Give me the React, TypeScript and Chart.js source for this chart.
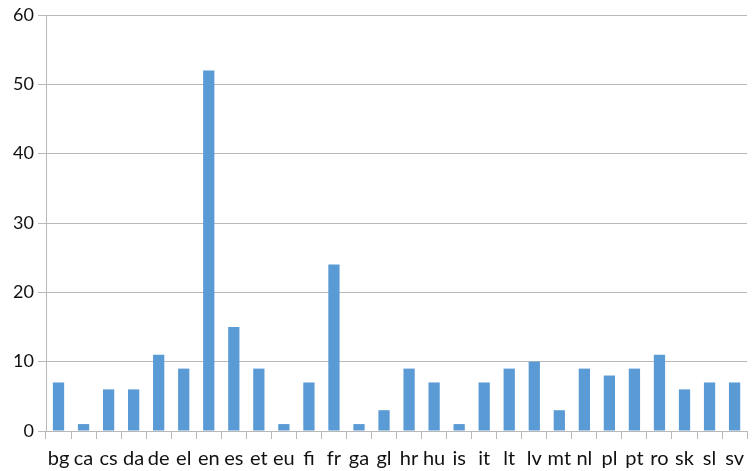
import React, { useEffect, useRef } from "react";
import { Chart, registerables } from "chart.js";

Chart.register(...registerables);

const categories = ["bg","ca","cs","da","de","el","en","es","et","eu","fi","fr","ga","gl","hr","hu","is","it","lt","lv","mt","nl","pl","pt","ro","sk","sl","sv"];
const values = [7,1,6,6,11,9,52,15,9,1,7,24,1,3,9,7,1,7,9,10,3,9,8,9,11,6,7,7];
const yTicks = [0, 10, 20, 30, 40, 50, 60];

export default function App() {
  const ref = useRef<HTMLCanvasElement>(null);
  useEffect(() => {
    document.body.style.margin = "0";
    const chart = new Chart(ref.current!, {
      type: "bar",
      data: {
        labels: categories,
        datasets: [{ data: values, backgroundColor: "#5b9bd5", barPercentage: 0.45, categoryPercentage: 1 }],
      },
      options: {
        animation: false,
        responsive: false,
        layout: { padding: { top: 15, right: 0, left: 0, bottom: 0 } },
        plugins: { legend: { display: false }, tooltip: { enabled: false } },
        scales: {
          x: {
            offset: true,
            grid: { offset: true, drawOnChartArea: false, drawTicks: true, tickLength: 8, color: "#b8b8b8" },
            border: { color: "#b8b8b8" },
            ticks: { color: "#111", font: { family: "Lato", size: 20 }, padding: 8, maxRotation: 0, autoSkip: false },
            afterFit: (s: any) => { s.height = 40; },
          },
          y: {
            min: 0,
            max: 60,
            afterBuildTicks: (s: any) => { s.ticks = yTicks.map((v) => ({ value: v })); },
            grid: { color: "#b8b8b8", tickLength: 8 },
            border: { color: "#b8b8b8" },
            ticks: { color: "#111", font: { family: "Lato", size: 18 }, padding: 4 },
            afterFit: (s: any) => { s.width = 46; },
          },
        },
      },
    });
    return () => chart.destroy();
  }, []);
  return <canvas ref={ref} width={752} height={471} style={{ display: "block" }} />;
}
